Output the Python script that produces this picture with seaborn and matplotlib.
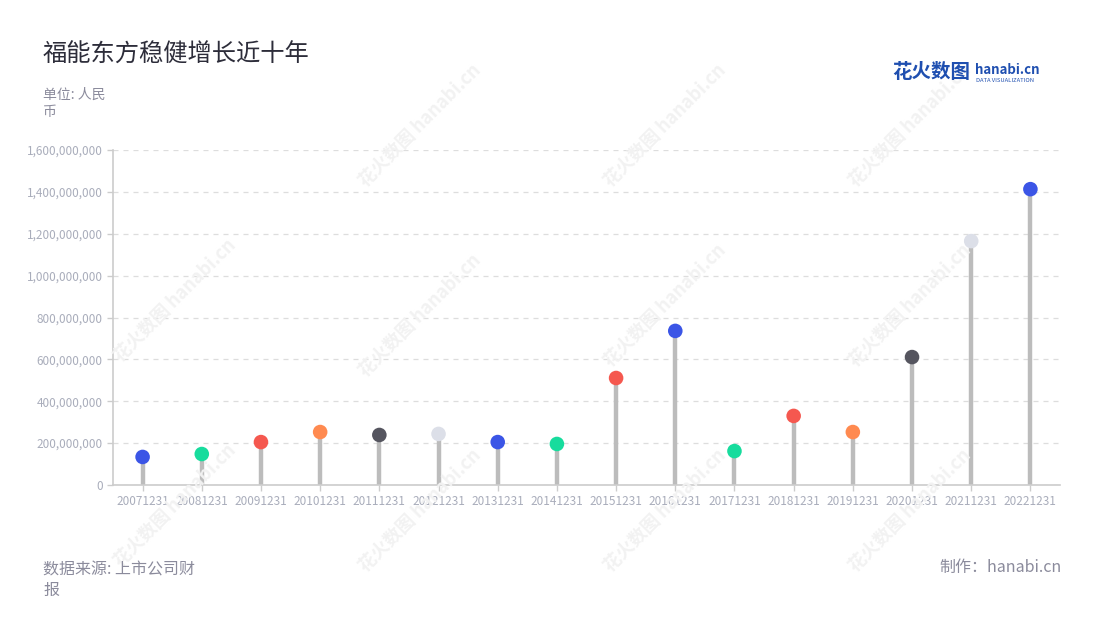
import numpy as np
import pandas as pd
import matplotlib
matplotlib.use('Agg')
import matplotlib.pyplot as plt
import seaborn as sns

# data
dates = ['20071231', '20081231', '20091231', '20101231', '20111231', '20121231',
         '20131231', '20141231', '20151231', '20161231', '20171231', '20181231',
         '20191231', '20201231', '20211231', '20221231']
profit = [134e6, 148e6, 205e6, 253e6, 239e6, 244e6,
          205e6, 196e6, 511e6, 736e6, 162e6, 330e6,
          253e6, 611e6, 1165e6, 1413e6]
dot_colors = ['#3b55e6', '#17dc9d', '#f5584f', '#ff8a50', '#55555f', '#dcdfe8',
              '#3b55e6', '#17dc9d', '#f5584f', '#3b55e6', '#17dc9d', '#f5584f',
              '#ff8a50', '#55555f', '#dcdfe8', '#3b55e6']

df = pd.DataFrame({'date': dates, 'value': profit})
df['pos'] = np.arange(len(df))

sns.set_style('white')
plt.rcParams['font.family'] = ['Noto Sans CJK SC', 'DejaVu Sans']

fig = plt.figure(figsize=(11, 6.2), dpi=100)
ax = fig.add_axes([113 / 1100, 1 - 485 / 620, (1060 - 113) / 1100, (485 - 150) / 620])

# faint watermark
for wx, wy in [(420, 125), (665, 125), (910, 125),
               (175, 300), (420, 315), (665, 305), (910, 305),
               (175, 505), (420, 510), (665, 510), (910, 510)]:
    fig.text(wx / 1100, 1 - wy / 620, '花火数图 hanabi.cn', rotation=45, fontsize=13,
             fontweight='bold', color='#f2f2f2', ha='center', va='center', zorder=0)

# stems + dots
ax.vlines(df['pos'], 0, df['value'], color='#bcbcbc', linewidth=3.2, zorder=2)
sns.scatterplot(data=df, x='pos', y='value', hue='date',
                palette=dict(zip(dates, dot_colors)),
                s=110, linewidth=0, legend=False, zorder=3, ax=ax)

ax.set_xlim(-0.5, len(df) - 0.5)
ax.set_ylim(0, 1.6e9)
ax.set_xticks(df['pos'])
ax.set_xticklabels(df['date'])
yt = np.arange(0, 1.6e9 + 1, 2e8)
ax.set_yticks(yt)
ax.set_yticklabels([f'{int(v):,}' for v in yt])
ax.set_xlabel('')
ax.set_ylabel('')
ax.set_facecolor('none')

ax.yaxis.grid(True, linestyle=(0, (4, 4)), color='#dddddd', linewidth=0.9)
ax.set_axisbelow(True)
for side in ['top', 'right']:
    ax.spines[side].set_visible(False)
for side in ['left', 'bottom']:
    ax.spines[side].set_color('#cccccc')
    ax.spines[side].set_linewidth(1.2)
ax.tick_params(axis='both', colors='#cccccc', labelcolor='#a9adbb', labelsize=8.5,
               length=4, width=1, direction='out', left=True, bottom=True)

# titles and notes
fig.text(43 / 1100, 1 - 55 / 620, '福能东方稳健增长近十年', fontsize=17.5,
         color='#2d2d3a', va='center', ha='left')
fig.text(43 / 1100, 1 - 88 / 620, '单位: 人民\n币', fontsize=10, color='#8b8b9c',
         va='top', ha='left', linespacing=1.3)
fig.text(43 / 1100, 1 - 561 / 620, '数据来源: 上市公司财\n报', fontsize=11.5,
         color='#8b8b9c', va='top', ha='left', linespacing=1.3)
fig.text(1062 / 1100, 1 - 567 / 620, '制作：hanabi.cn', fontsize=11.5,
         color='#8b8b9c', va='center', ha='right')

# logo
fig.text(892 / 1100, 1 - 73 / 620, '花火数图', fontsize=14, fontweight='bold',
         color='#1f4fb0', va='center', ha='left')
fig.text(975 / 1100, 1 - 70 / 620, 'hanabi.cn', fontsize=9.5, fontweight='bold',
         color='#1f4fb0', va='center', ha='left')
fig.text(976 / 1100, 1 - 80 / 620, 'DATA VISUALIZATION', fontsize=4.2,
         color='#1f4fb0', va='center', ha='left')

fig.savefig('out.png', dpi=100, facecolor='white')
